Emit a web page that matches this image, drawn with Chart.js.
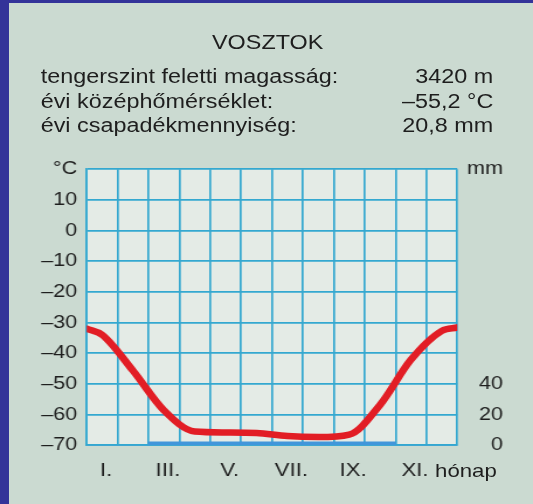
<!DOCTYPE html>
<html>
<head>
<meta charset="utf-8">
<script src="https://cdn.jsdelivr.net/npm/chart.js@4.4.1/dist/chart.umd.min.js"></script>
<style>
  html, body { margin: 0; padding: 0; }
  body {
    width: 533px; height: 504px; overflow: hidden; position: relative;
    background: #cbdad1; color: #1e1e1e;
    font-family: 'Liberation Sans', Arial, sans-serif;
  }
  #frame {
    position: absolute; left: 0; top: 0; width: 533px; height: 504px;
    box-sizing: border-box; border-left: 9px solid #333399; border-top: 3px solid #333399;
  }
  /* the reference type is wide, so the whole sheet is stretched sideways */
  #sheet {
    position: absolute; left: 0; top: 0; width: 456px; height: 504px;
    transform: scaleX(1.16886); transform-origin: 0 0;
  }
  .title { position: absolute; left: 1px; width: 456px; top: 28.7px; text-align: center; font-size: 20px; line-height: 26px; }
  .row { position: absolute; left: 34.8px; right: 34px; font-size: 20px; line-height: 24px; white-space: nowrap; }
  .row .v { position: absolute; right: 0; top: 0; }
  .unit { position: absolute; font-size: 19px; line-height: 22px; }
  #climate { position: absolute; left: 0; top: 150px; }
</style>
</head>
<body>
<div id="frame"></div>
<div id="sheet">
  <div class="title">VOSZTOK</div>
  <div class="row" style="top:64.2px">tengerszint feletti magasság:<span class="v">3420 m</span></div>
  <div class="row" style="top:88.7px">évi középhőmérséklet:<span class="v">–55,2 °C</span></div>
  <div class="row" style="top:113.2px">évi csapadékmennyiség:<span class="v">20,8 mm</span></div>
  <canvas id="climate" width="456" height="354"></canvas>
  <div class="unit" style="left:372.2px; top:460px">hónap</div>
</div>

<script>
// Vostok climate diagram: monthly temperature curve + precipitation bars
const monthLabels = ['I.', 'II.', 'III.', 'IV.', 'V.', 'VI.', 'VII.', 'VIII.', 'IX.', 'X.', 'XI.', 'XII.'];
const tempC = [-34.0, -45.7, -58.6, -65.5, -65.8, -66.0, -67.0, -67.3, -66.5, -56.8, -42.1, -32.7];
const tempEdgeStart = -32.0;   // where the curve meets the left frame
const tempEdgeEnd = -31.6;     // where the curve meets the right frame
const precipMm = [0, 0, 2.2, 2.2, 2.2, 2.2, 2.2, 2.2, 2.2, 2.2, 0, 0];
const mmTickLabels = [0, 20, 40];

const GRID = 'rgb(52,168,208)';
const FONT = "'Liberation Sans', Arial, sans-serif";
const LABEL_SHIFT = 0.13;

const dash = v => String(v).replace('-', '–');

const tempPoints = [{ x: 0, y: tempEdgeStart }]
  .concat(tempC.map((t, i) => ({ x: i + 0.5, y: t })))
  .concat([{ x: 12, y: tempEdgeEnd }]);
const precipPoints = precipMm.map((p, i) => ({ x: i + 0.5, y: p }));

const plotBg = {
  id: 'plotBg',
  beforeDraw(chart) {
    const { ctx, chartArea: a } = chart;
    ctx.save();
    ctx.fillStyle = '#e4ebe6';
    ctx.fillRect(a.left, a.top, a.width, a.height);
    ctx.restore();
  }
};

new Chart(document.getElementById('climate'), {
  type: 'line',
  data: {
    datasets: [{
      label: 'hőmérséklet',
      data: tempPoints,
      xAxisID: 'x',
      yAxisID: 'y',
      borderColor: 'rgb(226,29,37)',
      borderWidth: 6.5,
      pointRadius: 0,
      cubicInterpolationMode: 'monotone',
      borderCapStyle: 'round',
      fill: false
    }, {
      type: 'bar',
      label: 'csapadék',
      data: precipPoints,
      xAxisID: 'x',
      yAxisID: 'y2',
      backgroundColor: 'rgb(66,150,218)',
      borderWidth: 0,
      barPercentage: 1,
      categoryPercentage: 1
    }]
  },
  options: {
    responsive: false,
    devicePixelRatio: 1,
    animation: false,
    events: [],
    layout: { padding: { top: 18.3, right: 25.7, left: 0, bottom: 0 } },
    plugins: { legend: { display: false }, tooltip: { enabled: false } },
    scales: {
      // month grid (one line per month boundary)
      x: {
        type: 'linear',
        position: 'bottom',
        min: 0,
        max: 12,
        offset: false,
        afterFit: scale => { scale.height = 0; },
        grid: { color: GRID, lineWidth: 1.7, drawTicks: false, offset: false },
        border: { color: GRID, width: 1.7 },
        ticks: { stepSize: 1, display: false }
      },
      // month names, every second month
      xLab: {
        type: 'linear',
        position: 'bottom',
        min: 0,
        max: 12,
        offset: false,
        afterBuildTicks: axis => {
          axis.ticks = monthLabels
            .map((m, i) => ({ value: i + 0.5 + LABEL_SHIFT, i }))
            .filter(t => t.i % 2 === 0)
            .map(t => ({ value: t.value }));
        },
        afterFit: scale => { scale.height = 58.7; },
        grid: { display: false, drawTicks: false },
        border: { display: false },
        ticks: {
          autoSkip: false,
          maxRotation: 0,
          minRotation: 0,
          padding: 14,
          color: '#1e1e1e',
          font: { family: FONT, size: 19 },
          callback: v => monthLabels[Math.floor(v)]
        }
      },
      y: {
        position: 'left',
        min: -70,
        max: 20,
        afterFit: scale => { scale.width = 74.2; },
        grid: { color: GRID, lineWidth: 1.7, drawTicks: false },
        border: { color: GRID, width: 1.7 },
        ticks: {
          stepSize: 10,
          padding: 8.1,
          color: '#1e1e1e',
          font: { family: FONT, size: 18.5 },
          callback: v => v === 20 ? '°C' : dash(v)
        }
      },
      y2: {
        position: 'right',
        min: 0,
        max: 180,
        afterFit: scale => { scale.width = 39.1; },
        grid: { display: false, drawTicks: false },
        border: { display: false },
        ticks: {
          stepSize: 20,
          crossAlign: 'far',
          padding: 0,
          color: '#1e1e1e',
          font: { family: FONT, size: 18.5 },
          callback: v => v === 180 ? 'mm' : (mmTickLabels.includes(v) ? String(v) : '')
        }
      }
    }
  },
  plugins: [plotBg]
});
</script>
</body>
</html>
